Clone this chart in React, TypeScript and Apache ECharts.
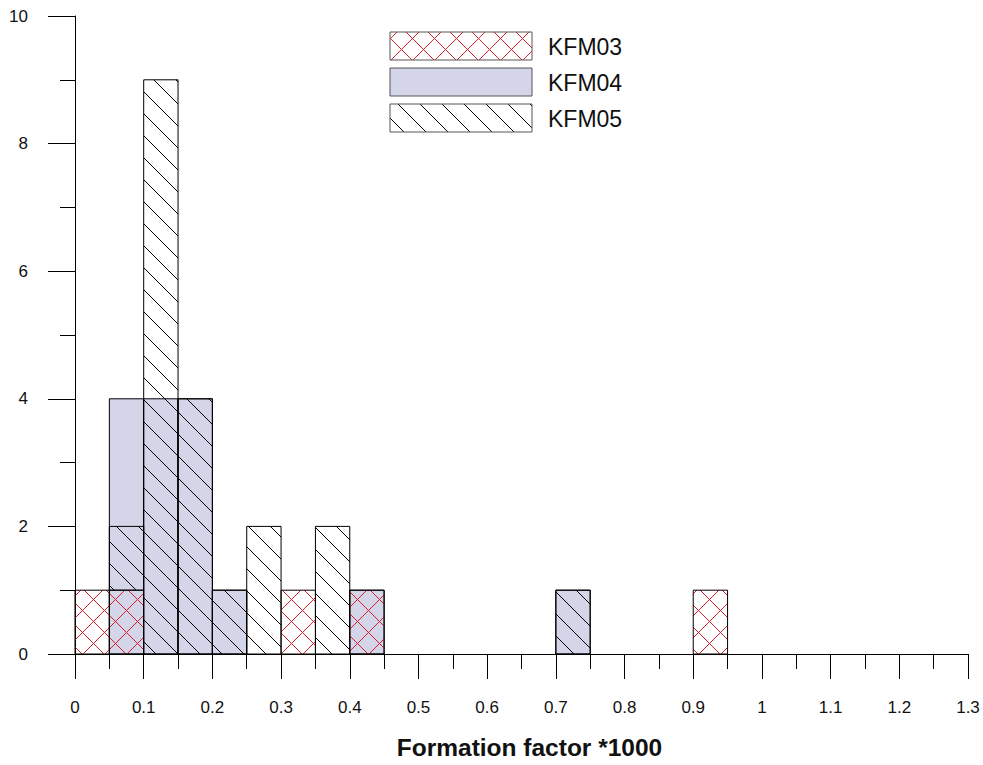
import React, { useEffect, useRef } from "react";
import * as echarts from "echarts";

// Histogram bins (start of each 0.05 wide bin), Formation factor *1000
const binStarts = [
  0, 0.05, 0.1, 0.15, 0.2, 0.25, 0.3, 0.35, 0.4, 0.45, 0.5, 0.55, 0.6,
  0.65, 0.7, 0.75, 0.8, 0.85, 0.9, 0.95, 1.0, 1.05, 1.1, 1.15, 1.2, 1.25,
];
const binWidth = 0.05;
const seriesNames = ["KFM03", "KFM04", "KFM05"];
// counts per bin
const kfm03 = [1, 1, 0, 0, 0, 0, 1, 0, 1, 0, 0, 0, 0, 0, 0, 0, 0, 0, 1, 0, 0, 0, 0, 0, 0, 0];
const kfm04 = [0, 4, 4, 4, 1, 0, 0, 0, 1, 0, 0, 0, 0, 0, 1, 0, 0, 0, 0, 0, 0, 0, 0, 0, 0, 0];
// KFM05 drawn stacked on top of KFM03
const kfm05 = [0, 1, 9, 4, 1, 2, 0, 2, 0, 0, 0, 0, 0, 0, 1, 0, 0, 0, 0, 0, 0, 0, 0, 0, 0, 0];
const yTicks = [0, 2, 4, 6, 8, 10];
const xMin = 0;
const xMax = 1.3;

const LAVENDER = "#d5d5e9";
const RED = "#d4202c";
const D = 22; // hatch spacing in px

type Seg = [number, number, number, number];

function hatch(x0: number, y0: number, x1: number, y1: number, dir: number): Seg[] {
  const segs: Seg[] = [];
  if (dir > 0) {
    const cMin = y0 - x1, cMax = y1 - x0;
    for (let k = Math.ceil(cMin / D); k * D <= cMax; k++) {
      const c = k * D;
      const xa = Math.max(x0, y0 - c), xb = Math.min(x1, y1 - c);
      if (xb > xa) segs.push([xa, xa + c, xb, xb + c]);
    }
  } else {
    const cMin = x0 + y0, cMax = x1 + y1;
    for (let k = Math.ceil(cMin / D) - 1; k * D <= cMax; k++) {
      const c = k * D + D / 2;
      const xa = Math.max(x0, c - y1), xb = Math.min(x1, c - y0);
      if (xb > xa) segs.push([xa, c - xa, xb, c - xb]);
    }
  }
  return segs;
}

function fillFor(kind: number, x0: number, y0: number, x1: number, y1: number, stroke: string) {
  const children: any[] = [];
  const w = x1 - x0, h = y1 - y0;
  if (kind === 1) {
    children.push({ type: "rect", shape: { x: x0, y: y0, width: w, height: h }, style: { fill: LAVENDER } });
  }
  if (kind === 0) {
    const segs = hatch(x0, y0, x1, y1, 1).concat(hatch(x0, y0, x1, y1, -1));
    segs.forEach((s) =>
      children.push({ type: "line", shape: { x1: s[0], y1: s[1], x2: s[2], y2: s[3] }, style: { stroke: RED, lineWidth: 1 } })
    );
  }
  if (kind === 2) {
    hatch(x0, y0 + 8, x1, y1 + 8, 1).forEach((s) =>
      children.push({ type: "line", shape: { x1: s[0], y1: s[1] - 8, x2: s[2], y2: s[3] - 8 }, style: { stroke: "#000", lineWidth: 1 } })
    );
  }
  children.push({
    type: "rect",
    shape: { x: x0, y: y0, width: w, height: h },
    style: { fill: "none", stroke, lineWidth: 1 },
  });
  return children;
}

function makeSeries(kind: number, values: number[], bases: number[] | null, z: number) {
  const data = binStarts.map((s, i) => [s, s + binWidth, values[i], bases ? bases[i] : 0]);
  return {
    type: "custom",
    name: seriesNames[kind],
    z,
    data,
    encode: { x: [0, 1], y: [2, 3] },
    renderItem: (params: any, api: any) => {
      const v = api.value(2);
      if (!v) return null;
      const b = api.value(3);
      const p0 = api.coord([api.value(0), b + v]);
      const p1 = api.coord([api.value(1), b]);
      return { type: "group", children: fillFor(kind, p0[0], p0[1], p1[0], p1[1], "#000") };
    },
  };
}

function legendGraphics() {
  const els: any[] = [];
  [0, 1, 2].forEach((kind, i) => {
    const x0 = 390, y0 = 32 + i * 36, w = 142, h = 28;
    els.push(...fillFor(kind, x0, y0, x0 + w, y0 + h, "#555"));
    els.push({
      type: "text",
      x: 548,
      y: y0 + h / 2 + 1,
      style: {
        text: seriesNames[kind],
        fill: "#111",
        font: '23px "Liberation Sans", Arial, sans-serif',
        verticalAlign: "middle",
        align: "left",
      },
    });
  });
  return els;
}

export default function App() {
  const ref = useRef<HTMLDivElement>(null);
  useEffect(() => {
    if (!ref.current) return;
    const chart = echarts.init(ref.current, null, { renderer: "svg" });
    chart.setOption({
      animation: false,
      backgroundColor: "#fff",
      grid: { left: 75, right: 15, top: 16, bottom: 110 },
      xAxis: {
        type: "value",
        min: xMin,
        max: xMax,
        interval: 0.1,
        name: "Formation factor *1000",
        nameLocation: "middle",
        nameGap: 81,
        nameTextStyle: {
          fontFamily: '"Liberation Sans", Arial, sans-serif',
          fontSize: 24.5,
          fontWeight: "bold",
          color: "#111",
          padding: [0, 0, 0, 16],
        },
        axisLine: { show: true, lineStyle: { color: "#000", width: 1 } },
        axisTick: { show: true, inside: false, length: 25, lineStyle: { color: "#000" } },
        minorTick: { show: true, splitNumber: 2, length: 15, lineStyle: { color: "#000" } },
        splitLine: { show: false },
        axisLabel: {
          margin: 45,
          fontFamily: '"Liberation Sans", Arial, sans-serif',
          fontSize: 17,
          color: "#111",
          formatter: (v: number) => String(+v.toFixed(2)),
        },
      },
      yAxis: {
        type: "value",
        min: yTicks[0],
        max: yTicks[yTicks.length - 1],
        interval: 2,
        axisLine: { show: true, lineStyle: { color: "#000", width: 1 } },
        axisTick: { show: true, inside: false, length: 27, lineStyle: { color: "#000" } },
        minorTick: { show: true, splitNumber: 2, length: 15, lineStyle: { color: "#000" } },
        splitLine: { show: false },
        axisLabel: {
          margin: 47,
          fontFamily: '"Liberation Sans", Arial, sans-serif',
          fontSize: 17,
          color: "#111",
        },
      },
      series: [
        makeSeries(1, kfm04, null, 2),
        makeSeries(0, kfm03, null, 3),
        makeSeries(2, kfm05, kfm03, 4),
      ],
      graphic: legendGraphics(),
    });
    return () => chart.dispose();
  }, []);
  return <div ref={ref} style={{ width: 983, height: 765, position: "absolute", left: 0, top: 0 }} />;
}
